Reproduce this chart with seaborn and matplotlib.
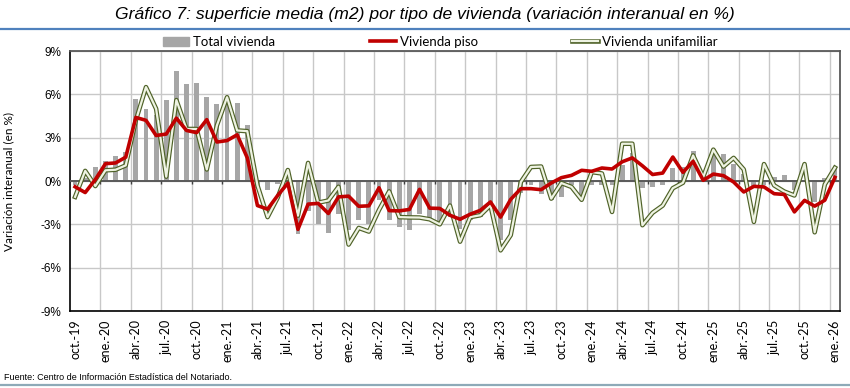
import matplotlib
matplotlib.use("Agg")
import matplotlib.pyplot as plt
from matplotlib.lines import Line2D
from matplotlib.patches import Patch
from matplotlib.legend_handler import HandlerTuple
import numpy as np
import pandas as pd
import seaborn as sns

# meses oct-19 .. ene-26
meses = ['ene.', 'feb.', 'mar.', 'abr.', 'may.', 'jun.', 'jul.', 'ago.', 'sep.', 'oct.', 'nov.', 'dic.']
periodos = [f'{meses[(9 + i) % 12]}-{19 + (9 + i) // 12}' for i in range(76)]

total = [-0.3, 0.2, 0.95, 1.4, 1.7, 2.0, 5.65, 5.0, 4.6, 5.6, 7.6, 6.7, 6.8, 5.8, 5.3, 5.9,
         5.4, 3.9, -0.5, -0.6, -0.2, -0.1, -3.7, -2.1, -3.0, -3.6, -2.3, -3.4, -2.7, -3.0,
         -1.3, -2.7, -3.2, -3.4, -2.3, -2.8, -2.9, -2.5, -3.3, -2.7, -2.5, -1.6, -4.1, -2.7,
         -0.8, -0.3, -0.9, -1.3, -1.1, -0.3, -1.2, -0.3, -0.3, -0.3, 1.1, 1.95, -0.45, -0.4,
         -0.25, 0.9, 1.0, 2.1, 0.4, 2.2, 1.9, 1.2, 0.5, -0.5, -0.3, 0.3, 0.4, -0.6, 0.0,
         -1.45, 0.2, 1.0]

piso = [-0.4, -0.8, 0.1, 1.2, 1.25, 1.65, 4.4, 4.2, 3.15, 3.25, 4.35, 3.5, 3.35, 4.25, 2.7,
        2.8, 3.2, 1.6, -1.7, -1.95, -1.0, -0.15, -3.35, -1.6, -1.55, -2.25, -1.1, -1.05,
        -1.75, -1.72, -0.47, -2.05, -2.07, -1.97, -0.58, -1.88, -1.9, -2.37, -2.65, -2.3,
        -2.03, -1.45, -2.5, -1.27, -0.53, -0.53, -0.6, -0.14, 0.23, 0.39, 0.74, 0.67, 0.9,
        0.83, 1.33, 1.6, 1.05, 0.45, 0.55, 1.66, 0.6, 1.36, 0.05, 0.48, 0.37, -0.07, -0.76,
        -0.37, -0.41, -0.88, -0.93, -2.14, -1.34, -1.74, -1.33, 0.25]

unifamiliar = [-1.1, 0.7, -0.35, 0.74, 0.78, 1.08, 4.2, 6.5, 5.0, 0.3, 5.6, 3.6, 3.6, 0.8,
               3.85, 5.8, 3.5, 3.45, -0.3, -2.5, -1.15, 0.76, -2.4, 1.25, -1.5, -1.35, -0.4,
               -4.4, -3.25, -3.5, -2.0, -0.72, -2.5, -2.52, -2.53, -2.65, -3.0, -1.7, -4.2,
               -2.5, -2.37, -1.68, -4.8, -3.75, -0.07, 0.97, 1.0, -1.22, -0.14, -0.41, -1.3,
               0.62, 0.52, -2.14, 2.58, 2.58, -3.06, -2.2, -1.7, -0.5, -0.12, 1.77, 0.28,
               2.17, 1.0, 1.6, 0.8, -2.83, 1.17, -0.3, -0.73, -1.0, 1.17, -3.55, -0.24, 0.92]

df = pd.DataFrame({'periodo': periodos, 'pos': range(len(periodos)),
                   'total': total, 'piso': piso, 'unifamiliar': unifamiliar})

W, H = 850, 388
plt.rcParams['font.family'] = ['Lato', 'DejaVu Sans']
narrow = ['Liberation Sans Narrow', 'Liberation Sans', 'DejaVu Sans']

verde_osc = '#4f6228'
verde_cla = '#eef3e2'

fig = plt.figure(figsize=(W / 100, H / 100), dpi=100)
ax = fig.add_axes([70 / W, 1 - 311 / H, 770 / W, 260 / H])

sns.barplot(data=df, x='pos', y='total', color='#a6a6a6', saturation=1, width=0.48,
            ax=ax, zorder=2)
sns.lineplot(data=df, x='pos', y='unifamiliar', color=verde_osc, lw=3.3, ax=ax, zorder=4)
sns.lineplot(data=df, x='pos', y='unifamiliar', color=verde_cla, lw=1.6, ax=ax, zorder=5)
sns.lineplot(data=df, x='pos', y='piso', color='#c00000', lw=2.6, ax=ax, zorder=6)

ax.set_xlim(-0.5, len(periodos) - 0.5)
ax.set_ylim(-9, 9)
yt = np.arange(-9, 10, 3)
ax.set_yticks(yt)
ax.set_yticklabels([f'{v}%' for v in yt], family=narrow, fontsize=8.5)
ax.tick_params(axis='y', length=0, pad=6)

ax.set_xticks(range(0, len(periodos), 3))
ax.set_xticklabels(periodos[::3], rotation=90, fontsize=9)
ax.set_xticks(np.arange(2.5, len(periodos) - 1, 3), minor=True)
ax.tick_params(axis='x', which='both', length=0, pad=6)

ax.grid(axis='y', which='major', color='#c8c8c8', lw=1)
ax.grid(axis='x', which='minor', color='#c8c8c8', lw=1)
ax.set_axisbelow(True)

ax.axhline(0, color='#595959', lw=1.4, zorder=3)
ax.vlines(np.arange(2.5, len(periodos) - 1, 3), -0.22, 0, color='#404040', lw=1, zorder=3)

ax.set_xlabel('')
ax.set_ylabel('Variación interanual (en %)', fontsize=8.5)
ax.yaxis.set_label_coords(-(70 - 14) / 770, 0.5)

for s in ['top', 'right']:
    ax.spines[s].set_color('#595959')
    ax.spines[s].set_linewidth(1.3)
for s in ['left', 'bottom']:
    ax.spines[s].set_color('black')
    ax.spines[s].set_linewidth(1.2)

# titulo y lineas del marco
fig.text(0.5, 1 - 14 / H,
         'Gráfico 7: superficie media (m2) por tipo de vivienda (variación interanual en %)',
         ha='center', va='center', style='italic', fontsize=12.6, family=narrow)
fig.add_artist(Line2D([0, 1], [1 - 29 / H] * 2, color='#4f81bd', lw=1.6,
                      transform=fig.transFigure))
fig.add_artist(Line2D([0, 1], [1 - 385 / H] * 2, color='#8eaab8', lw=1.6,
                      transform=fig.transFigure))
fig.text(4 / W, 1 - 377 / H, 'Fuente: Centro de Información Estadística del Notariado.',
         ha='left', va='center', fontsize=6.5, family=narrow)

# leyenda
ly = 1 - 42 / H
leg_kw = dict(loc='center left', frameon=False, borderpad=0, borderaxespad=0,
              handletextpad=0.3, fontsize=9.5, handlelength=2.0)
fig.legend(handles=[Patch(color='#a6a6a6')], labels=['Total vivienda'],
           bbox_to_anchor=(163 / W, ly), **leg_kw)
fig.legend(handles=[Line2D([], [], color='#c00000', lw=2.6)], labels=['Vivienda piso'],
           bbox_to_anchor=(370 / W, ly), **leg_kw)
fig.legend(handles=[(Line2D([], [], color=verde_osc, lw=3.3),
                     Line2D([], [], color=verde_cla, lw=1.6))],
           labels=['Vivienda unifamiliar'], handler_map={tuple: HandlerTuple(ndivide=1)},
           bbox_to_anchor=(572 / W, ly), **leg_kw)

fig.savefig('out.png', dpi=100)
